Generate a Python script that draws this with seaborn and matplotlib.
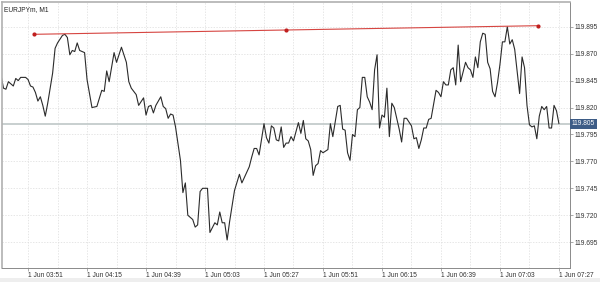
import numpy as np
import pandas as pd
import matplotlib
matplotlib.use("Agg")
import matplotlib.pyplot as plt
import matplotlib.dates as mdates
import matplotlib.transforms as mtransforms
from matplotlib.patches import Rectangle
import seaborn as sns

# ---- data -------------------------------------------------------------
symbol_title = "EURJPYm, M1"
base_time = "2024-06-01 03:51"

# minutes relative to 03:51 and close prices
minutes = [-11, -10, -9, -8, -6, -5, -4, -3, -2, -1, 0, 1, 2, 3, 4, 5, 6, 7, 8, 10,
           11, 12, 14, 15, 16, 17, 18, 19, 20, 21, 23, 24, 26, 28, 30, 31, 32, 33, 35, 36,
           38, 40, 41, 42, 44, 45, 47, 48, 49, 50, 51, 52, 54, 55, 56, 57, 58, 59, 60, 62,
           63, 64, 65, 67, 68, 69, 70, 71, 73, 74, 76, 77, 78, 79, 80, 81, 82, 84, 86, 87,
           90, 91, 92, 93, 94, 96, 97, 98, 99, 100, 101, 102, 103, 104, 105, 106, 107, 108, 110, 111,
           112, 113, 114, 115, 116, 117, 118, 119, 120, 122, 123, 124, 126, 127, 128, 129, 130, 131, 132, 133,
           134, 135, 136, 137, 138, 139, 140, 141, 142, 143, 144, 145, 146, 147, 148, 149, 151, 152, 153, 154,
           156, 157, 158, 159, 160, 161, 162, 163, 164, 166, 167, 168, 169, 170, 171, 172, 173, 174, 175, 176,
           178, 179, 180, 181, 182, 183, 184, 185, 186, 187, 188, 189, 190, 191, 192, 193, 194, 195, 196, 197,
           198, 200, 201, 202, 203, 204, 205, 206, 207, 208, 209, 210, 211, 212, 213, 214, 215, 216]
prices = [119.850, 119.838, 119.837, 119.844, 119.840, 119.847, 119.845, 119.848, 119.848, 119.848,
          119.846, 119.840, 119.839, 119.834, 119.826, 119.830, 119.822, 119.812, 119.824, 119.852,
          119.875, 119.880, 119.887, 119.888, 119.885, 119.869, 119.873, 119.872, 119.880, 119.873,
          119.871, 119.846, 119.820, 119.821, 119.836, 119.835, 119.854, 119.844, 119.871, 119.862,
          119.876, 119.862, 119.844, 119.838, 119.832, 119.822, 119.829, 119.813, 119.821, 119.822,
          119.815, 119.822, 119.830, 119.821, 119.819, 119.810, 119.814, 119.813, 119.802, 119.771,
          119.741, 119.750, 119.720, 119.716, 119.709, 119.711, 119.742, 119.745, 119.745, 119.704,
          119.713, 119.711, 119.723, 119.713, 119.713, 119.697, 119.714, 119.743, 119.758, 119.750,
          119.765, 119.774, 119.782, 119.782, 119.776, 119.805, 119.792, 119.787, 119.803, 119.801,
          119.790, 119.789, 119.802, 119.783, 119.787, 119.787, 119.793, 119.789, 119.806, 119.796,
          119.808, 119.791, 119.789, 119.781, 119.757, 119.766, 119.768, 119.780, 119.778, 119.781,
          119.805, 119.793, 119.821, 119.822, 119.800, 119.799, 119.778, 119.771, 119.795, 119.793,
          119.818, 119.820, 119.848, 119.848, 119.830, 119.825, 119.818, 119.855, 119.869, 119.801,
          119.813, 119.811, 119.838, 119.793, 119.824, 119.820, 119.800, 119.788, 119.810, 119.810,
          119.803, 119.791, 119.792, 119.782, 119.790, 119.801, 119.801, 119.809, 119.810, 119.836,
          119.834, 119.830, 119.844, 119.841, 119.841, 119.855, 119.857, 119.841, 119.878, 119.844,
          119.862, 119.857, 119.855, 119.848, 119.867, 119.857, 119.881, 119.889, 119.888, 119.862,
          119.856, 119.835, 119.830, 119.843, 119.860, 119.881, 119.881, 119.895, 119.879, 119.883,
          119.874, 119.833, 119.867, 119.857, 119.822, 119.804, 119.802, 119.803, 119.791, 119.812,
          119.821, 119.818, 119.821, 119.801, 119.801, 119.822, 119.817, 119.805]

# trend line (three anchor points)
trend_minutes = [2.4, 105.0, 207.5]
trend_prices = [119.888, 119.892, 119.896]

current_price = 119.805
y_ticks = [119.695, 119.720, 119.745, 119.770, 119.795, 119.820, 119.845, 119.870, 119.895]
x_label_minutes = [0, 24, 48, 72, 96, 120, 144, 168, 192, 216]
x_grid_minutes = list(range(0, 217, 12))
x_range_minutes = [-10.6, 220.5]
y_range = [119.671, 119.918]

# ---- build frames -----------------------------------------------------
t0 = pd.Timestamp(base_time)
df = pd.DataFrame({"time": t0 + pd.to_timedelta(minutes, unit="min"), "price": prices})
tr = pd.DataFrame({"time": t0 + pd.to_timedelta(trend_minutes, unit="min"), "price": trend_prices})

sns.set_theme(style="white")
plt.rcParams["font.family"] = ["Liberation Sans", "DejaVu Sans"]

fig = plt.figure(figsize=(6.0, 2.82), dpi=100)
fig.patch.set_facecolor("white")
ax = fig.add_axes([2 / 600, 1 - 268 / 282, 568 / 600, 266 / 282])

sns.lineplot(data=df, x="time", y="price", ax=ax, color="#2b2b2b", linewidth=0.8,
             estimator=None, sort=False)
sns.lineplot(data=tr, x="time", y="price", ax=ax, color="#d64541", linewidth=0.8,
             estimator=None, sort=False, marker="o", markersize=3,
             markeredgewidth=0, markerfacecolor="#c0201f")

ax.axhline(current_price, color="#c4cccc", linewidth=1.3, zorder=1)

# axes limits
ax.set_xlim(t0 + pd.Timedelta(minutes=x_range_minutes[0]), t0 + pd.Timedelta(minutes=x_range_minutes[1]))
ax.set_ylim(*y_range)

# ticks
ax.set_xticks([t0 + pd.Timedelta(minutes=m) for m in x_label_minutes])
ax.set_xticks([t0 + pd.Timedelta(minutes=m) for m in x_grid_minutes], minor=True)
ax.xaxis.set_major_formatter(mdates.DateFormatter("1 Jun %H:%M"))
ax.set_yticks(y_ticks)
ax.set_yticklabels([f"{v:.3f}" for v in y_ticks])
ax.yaxis.tick_right()
ax.tick_params(axis="y", which="both", right=True, left=False, length=2, width=0.5,
               color="#888888", labelsize=4.8, labelcolor="#333333", pad=1.5)
ax.tick_params(axis="x", which="major", bottom=True, length=2, width=0.5,
               color="#888888", labelsize=4.8, labelcolor="#333333", pad=1.0)
ax.tick_params(axis="x", which="minor", bottom=False, length=0)
for lab in ax.get_xticklabels():
    lab.set_ha("left")

ax.set_xlabel("")
ax.set_ylabel("")

ax.grid(True, which="both", axis="x", color="#dcdcdc", linewidth=0.5, linestyle=(0, (2, 2)))
ax.grid(True, which="major", axis="y", color="#dcdcdc", linewidth=0.5, linestyle=(0, (2, 2)))
ax.set_axisbelow(True)

for side in ["left", "top"]:
    ax.spines[side].set_color("#b0b0b0")
    ax.spines[side].set_linewidth(1.2)
for side in ["right", "bottom"]:
    ax.spines[side].set_color("#8a8a8a")
    ax.spines[side].set_linewidth(0.7)

# title in the corner
ax.text(0.003, 0.985, symbol_title, transform=ax.transAxes, ha="left", va="top",
        fontsize=4.8, color="#222222")

# current price label
trans = mtransforms.blended_transform_factory(ax.transAxes, ax.transData)
ax.text(1.003, current_price, f"{current_price:.3f}", transform=trans, ha="left", va="center",
        fontsize=4.8, color="white", clip_on=False,
        bbox=dict(boxstyle="square,pad=0.25", fc="#3d5c86", ec="none"))

# light strip at the very bottom
fig.patches.append(Rectangle((0, 0), 1, 4 / 282, transform=fig.transFigure,
                             facecolor="#eeeeee", edgecolor="none", zorder=0))

fig.savefig("out.png", dpi=100)
